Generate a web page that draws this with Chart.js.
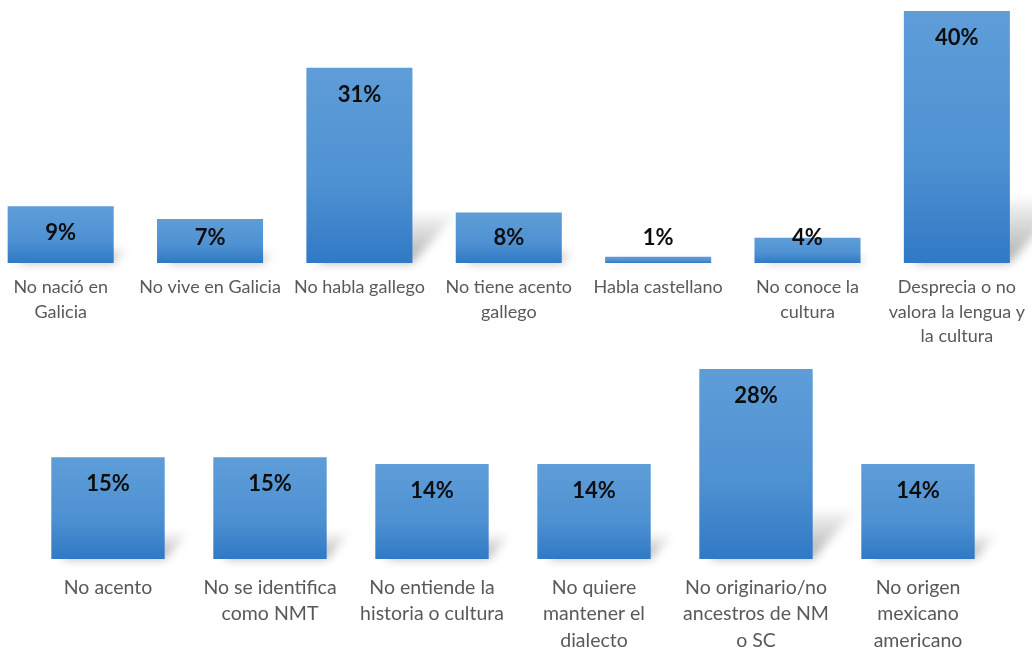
<!DOCTYPE html>
<html>
<head>
<meta charset="utf-8">
<script src="https://cdn.jsdelivr.net/npm/chart.js@4"></script>
<style>
  html, body { margin: 0; padding: 0; background: #fff; overflow: hidden; }
  body { width: 1032px; height: 648px; position: relative; }
  .box { position: absolute; }
  #topBox { left: -14px; top: 0; width: 1051px; height: 350px; }
  #bottomBox { left: 27px; top: 350px; width: 972px; height: 298px; }
</style>
</head>
<body>
<div class="box" id="topBox"><canvas id="topChart"></canvas></div>
<div class="box" id="bottomBox"><canvas id="bottomChart"></canvas></div>
<script>
const topCategories = [
  ['No nació en', 'Galicia'],
  'No vive en Galicia',
  'No habla gallego',
  ['No tiene acento', 'gallego'],
  'Habla castellano',
  ['No conoce la', 'cultura'],
  ['Desprecia o no', 'valora la lengua y', 'la cultura']
];
const topValues = [9, 7, 31, 8, 1, 4, 40];

const bottomCategories = [
  'No acento',
  ['No se identifica', 'como NMT'],
  ['No entiende la', 'historia o cultura'],
  ['No quiere', 'mantener el', 'dialecto'],
  ['No originario/no', 'ancestros de NM', 'o SC'],
  ['No origen', 'mexicano', 'americano']
];
const bottomValues = [15, 15, 14, 14, 28, 14];

// vertical gradient per bar, light blue at the top, deeper blue at the base
function barGradient(ctx) {
  const chart = ctx.chart;
  const y = chart.scales.y;
  if (!chart.chartArea || !y) return '#5b9bd5';
  const v = ctx.raw;
  const top = y.getPixelForValue(v);
  const base = y.getPixelForValue(0);
  const g = chart.ctx.createLinearGradient(0, top, 0, Math.max(base, top + 1));
  g.addColorStop(0, '#5e9dd8');
  g.addColorStop(0.6, '#4e91d2');
  g.addColorStop(1, '#3079c5');
  return g;
}

// soft perspective shadow thrown up and to the right behind each bar
const barShadow = {
  id: 'barShadow',
  beforeDatasetsDraw(chart) {
    const ctx = chart.ctx;
    const meta = chart.getDatasetMeta(0);
    ctx.save();
    ctx.filter = 'blur(5px)';
    meta.data.forEach(bar => {
      const h = bar.base - bar.y;
      const left = bar.x - bar.width / 2;
      const right = bar.x + bar.width / 2;
      const dx = h * 0.22, dy = h * 0.25;
      const g = ctx.createLinearGradient(0, bar.base, 0, bar.base - dy);
      g.addColorStop(0, 'rgba(0,0,0,0.32)');
      g.addColorStop(1, 'rgba(0,0,0,0.04)');
      ctx.fillStyle = g;
      ctx.beginPath();
      ctx.moveTo(left + 10, bar.base);
      ctx.lineTo(right, bar.base);
      ctx.lineTo(right + dx, bar.base - dy);
      ctx.lineTo(left + 10 + dx, bar.base - dy);
      ctx.closePath();
      ctx.fill();
    });
    ctx.restore();
  }
};

// percentage text just inside the top of each bar
const valueLabels = {
  id: 'valueLabels',
  afterDatasetsDraw(chart, args, opts) {
    const ctx = chart.ctx;
    const meta = chart.getDatasetMeta(0);
    const values = chart.data.datasets[0].data;
    ctx.save();
    ctx.font = 'bold ' + opts.size + 'px Lato';
    ctx.fillStyle = '#0d0d0d';
    ctx.textAlign = 'center';
    ctx.textBaseline = 'middle';
    meta.data.forEach((bar, i) => {
      const y = Math.min(bar.y + 27, bar.base - 25);
      ctx.fillText(values[i] + '%', bar.x, y);
    });
    ctx.restore();
  }
};

function makeChart(id, labels, values, opt) {
  return new Chart(document.getElementById(id), {
    type: 'bar',
    data: {
      labels,
      datasets: [{
        data: values,
        backgroundColor: barGradient,
        borderWidth: 0,
        barPercentage: opt.barPct,
        categoryPercentage: 1
      }]
    },
    options: {
      responsive: true,
      maintainAspectRatio: false,
      animation: false,
      layout: { padding: { top: opt.padTop, left: 0, right: 0, bottom: 0 } },
      plugins: {
        legend: { display: false },
        tooltip: { enabled: false },
        valueLabels: { size: opt.valueSize }
      },
      scales: {
        x: {
          grid: { display: false, drawTicks: false },
          border: { display: false },
          ticks: {
            autoSkip: false,
            maxRotation: 0,
            minRotation: 0,
            padding: opt.tickPad,
            color: '#595959',
            font: { family: 'Lato', size: opt.tickSize, lineHeight: opt.lineHeight }
          },
          afterFit(scale) { scale.height = opt.axisHeight; }
        },
        y: { display: false, min: 0, max: opt.max }
      }
    },
    plugins: [barShadow, valueLabels]
  });
}

makeChart('topChart', topCategories, topValues, {
  max: 40, padTop: 11, axisHeight: 87, tickPad: 12,
  tickSize: 18, lineHeight: '24.5px', valueSize: 22, barPct: 0.71
});

makeChart('bottomChart', bottomCategories, bottomValues, {
  max: 28, padTop: 19, axisHeight: 89, tickPad: 15,
  tickSize: 19.5, lineHeight: '26.5px', valueSize: 22, barPct: 0.70
});
</script>
</body>
</html>
